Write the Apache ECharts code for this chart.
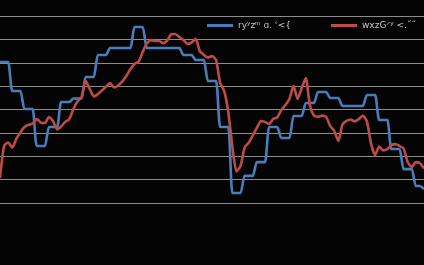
<!DOCTYPE html>
<html>
<head>
<meta charset="utf-8">
<script src="https://cdn.jsdelivr.net/npm/echarts@6/dist/echarts.min.js"></script>
<style>html,body{margin:0;padding:0;background:#000;}#c{width:424px;height:265px;}</style>
</head>
<body>
<div id="c"></div>
<script>
const seriesNames = ["ryʸzᵐ ɑ. ʿ<{", "wxzGᐟʸ <.˝˝"];
const blueValues = [
  60.3,60.3,60.3, 47.9,47.9,47.9, 40.2,40.2,40.2, 24.4,24.4,24.4,
  32.5,32.5,32.5, 43.2,43.2,43.2, 44.7,44.7,44.7, 53.9,53.9,53.9,
  63.3,63.3,63.3, 66.3,66.3,66.3, 66.3,66.3,66.3, 75.3,75.3,75.3,
  66.3,66.3,66.3, 66.3,66.3,66.3, 66.3,66.3,66.3, 63.3,63.3,63.3,
  61.2,61.2,61.2, 52.2,52.2,52.2, 32.5,32.5,32.5, 4.3,4.3,4.3,
  11.6,11.6,11.6, 17.5,17.5,17.5, 32.5,32.5,32.5, 27.8,27.8,27.8,
  37.2,37.2,37.2, 42.8,42.8,42.8, 47.5,47.5,47.5, 44.9,44.9,44.9,
  41.5,41.5,41.5, 41.5,41.5,41.5, 46.2,46.2,46.2, 35.5,35.5,35.5,
  23.1,23.1,23.1, 14.5,14.5,14.5, 7.3,7.3,6.0
];
const redValues = [
  10.7,24.4,25.9,23.7,27.4,30.2,32.5,33.4,34.0,35.9,
  34.4,34.2,36.8,35.1,31.5,32.7,34.7,35.9,40.2,43.4,
  45.3,52.4,48.8,45.6,46.6,48.1,49.8,51.3,49.4,50.3,
  52.0,54.3,57.3,59.5,60.5,64.6,68.2,69.7,69.3,69.3,
  68.4,69.5,72.2,72.3,71.0,69.7,68.0,68.7,70.2,65.0,
  63.4,62.2,62.9,61.2,51.3,47.9,38.9,24.0,13.5,15.8,
  23.7,25.8,28.9,32.1,35.1,34.7,33.8,35.9,36.6,39.8,
  41.9,44.5,50.1,44.5,49.2,53.5,41.9,37.4,36.9,37.4,
  36.8,32.9,30.8,26.5,33.6,35.1,35.7,34.9,35.9,37.4,
  34.9,25.5,20.5,24.2,22.5,23.1,24.8,25.2,24.4,23.3,
  17.5,15.4,17.5,17.0,14.8
];
const categories = blueValues.map((_, i) => String(i + 1));

const chart = echarts.init(document.getElementById('c'), null, {renderer: 'canvas'});
const legendText = {color: '#c8c8c8', fontSize: 9, fontFamily: 'DejaVu Sans'};
chart.setOption({
  backgroundColor: '#040405',
  animation: false,
  legend: [
    {data: [seriesNames[0]], left: 202, top: 16, itemWidth: 26, itemHeight: 3, itemGap: 4,
     textStyle: legendText, icon: 'rect'},
    {data: [seriesNames[1]], left: 326, top: 16, itemWidth: 26, itemHeight: 3, itemGap: 4,
     textStyle: legendText, icon: 'rect'}
  ],
  grid: {left: 0, right: 0, top: 16, bottom: 62, containLabel: false},
  xAxis: {
    type: 'category', data: categories, boundaryGap: false,
    axisLine: {show: false}, axisTick: {show: false}, axisLabel: {show: false}, splitLine: {show: false}
  },
  yAxis: {
    type: 'value', min: 0, max: 80, interval: 10,
    axisLine: {show: false}, axisTick: {show: false}, axisLabel: {show: false},
    splitLine: {show: true, lineStyle: {color: '#8c8c8c', width: 1}}
  },
  series: [
    {name: seriesNames[0], type: 'line', data: blueValues, symbol: 'none', smooth: 0.2,
     lineStyle: {color: '#4a7ebb', width: 2.6}, itemStyle: {color: '#4a7ebb'}},
    {name: seriesNames[1], type: 'line', data: redValues, symbol: 'none', smooth: 0.2,
     lineStyle: {color: '#be4b48', width: 2.6}, itemStyle: {color: '#be4b48'}}
  ]
});
</script>
</body>
</html>
